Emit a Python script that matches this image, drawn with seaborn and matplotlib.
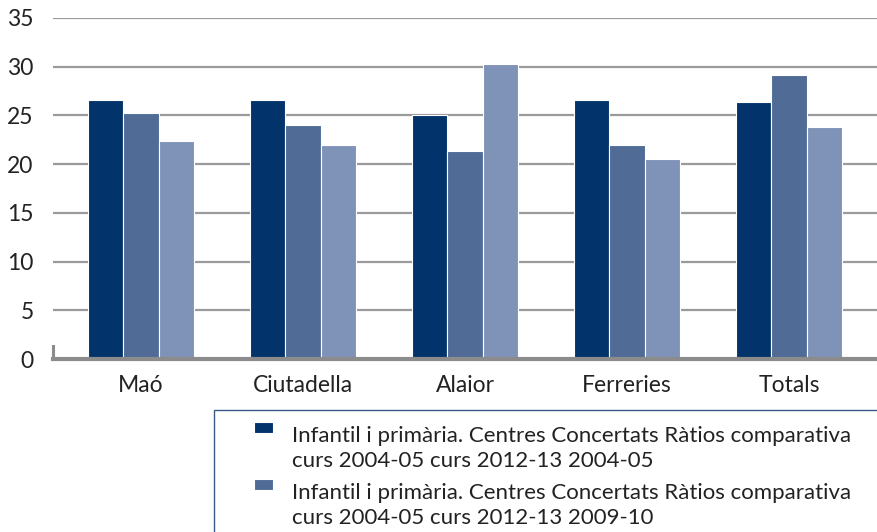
import matplotlib
matplotlib.use("Agg")
import matplotlib.pyplot as plt
import seaborn as sns
import pandas as pd
from matplotlib.patches import Rectangle
from matplotlib.legend_handler import HandlerPatch

categories = ["Maó", "Ciutadella", "Alaior", "Ferreries", "Totals"]
series_names = [
    "Infantil i primària. Centres Concertats Ràtios comparativa\ncurs 2004-05 curs 2012-13 2004-05",
    "Infantil i primària. Centres Concertats Ràtios comparativa\ncurs 2004-05 curs 2012-13 2009-10",
    "Infantil i primària. Centres Concertats Ràtios comparativa\ncurs 2004-05 curs 2012-13 2012-13",
]
values_2004 = [26.6, 26.6, 25.0, 26.6, 26.4]
values_2009 = [25.2, 24.0, 21.3, 22.0, 29.2]
values_2012 = [22.4, 22.0, 30.3, 20.5, 23.8]
yticks = [0, 5, 10, 15, 20, 25, 30, 35]
colors = ["#02336A", "#4F6B96", "#7F93B8"]

rows = []
for name, vals in zip(series_names, [values_2004, values_2009, values_2012]):
    for c, v in zip(categories, vals):
        rows.append({"cat": c, "serie": name, "val": v})
df = pd.DataFrame(rows)

sns.set_theme(style="white")
plt.rcParams["font.family"] = ["Lato", "DejaVu Sans"]

W, H = 877, 532
fig = plt.figure(figsize=(8.77, 5.32), dpi=100)
ax = fig.add_axes([53 / W, 1 - 359 / H, 1 - 53 / W, (359 - 18) / H])

sns.barplot(data=df, x="cat", y="val", hue="serie", palette=colors,
            width=0.65, gap=0, ax=ax, legend=True,
            edgecolor="white", linewidth=0.8, saturation=1)

ax.set_ylim(0, 35)
ax.set_xlim(-0.543, 4.543)
ax.set_yticks(yticks)
ax.set_yticklabels([str(t) for t in yticks], fontsize=16.5, color="#222222")
ax.tick_params(axis="x", labelsize=16.5, colors="#222222", length=0, pad=11.5)
ax.tick_params(axis="y", length=0, pad=14)
ax.set_xlabel("")
ax.set_ylabel("")
ax.yaxis.grid(True, color="#9A9A9A", linewidth=1.6)
ax.set_axisbelow(True)
for s in ["top", "right"]:
    ax.spines[s].set_visible(False)
ax.spines["bottom"].set_color("#8C8C8C")
ax.spines["bottom"].set_linewidth(3)
ax.spines["left"].set_color("#8C8C8C")
ax.spines["left"].set_linewidth(2.2)
ax.spines["left"].set_bounds(0, 1.3)

# legend frame (extends beyond the figure like the reference)
frame = Rectangle((214 / W, -0.2), 1.0, (1 - 410 / H) + 0.2,
                  transform=fig.transFigure, fill=False,
                  edgecolor="#3A5A8A", linewidth=1.0)
fig.patches.append(frame)


def make_patch(legend, orig_handle, xdescent, ydescent, width, height, fontsize):
    return Rectangle((-xdescent, -ydescent + 0.95 * fontsize), width, height)


handles, labels = ax.get_legend_handles_labels()
ax.get_legend().remove()
# only the first two entries fit inside the picture (the third lies below its edge)
leg = fig.legend(handles[:2], labels[:2], loc="upper left",
                 bbox_to_anchor=(254 / W, 1 - 426 / H),
                 frameon=False, fontsize=16,
                 handlelength=0.86, handleheight=0.38, handletextpad=0.85,
                 labelspacing=0.55, borderpad=0, borderaxespad=0,
                 handler_map={Rectangle: HandlerPatch(patch_func=make_patch)})
for t in leg.get_texts():
    t.set_color("#222222")
    t.set_linespacing(1.32)

fig.savefig("out.png", dpi=100)
